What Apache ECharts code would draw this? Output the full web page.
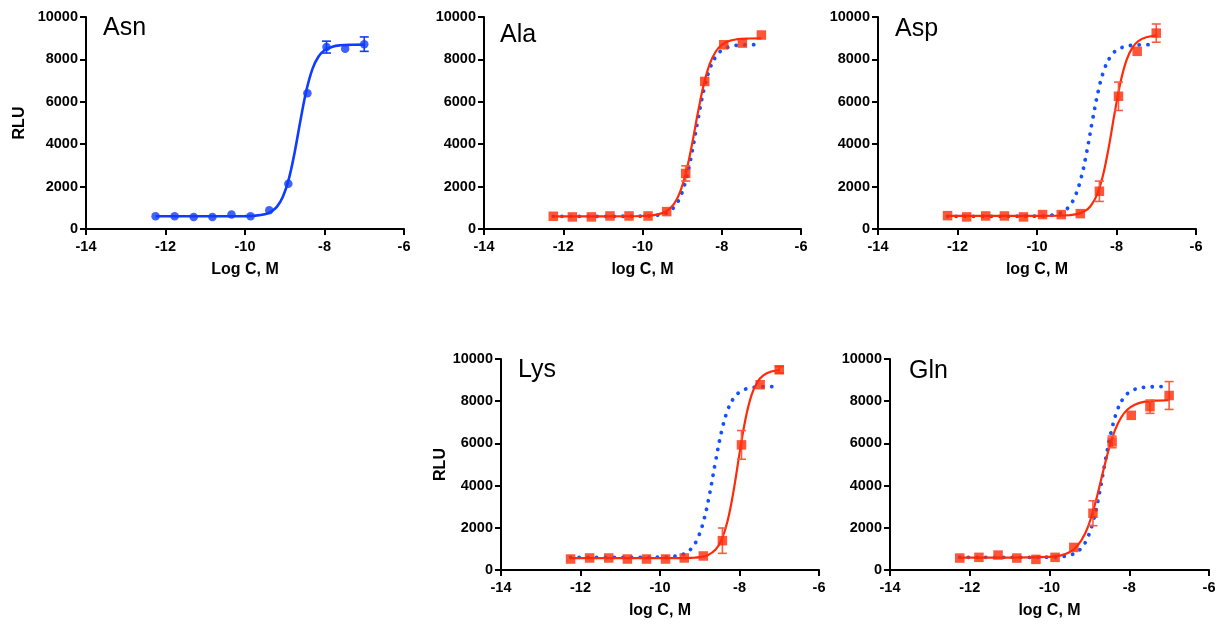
<!DOCTYPE html>
<html>
<head>
<meta charset="utf-8">
<title>RLU vs log C</title>
<script src="https://cdn.jsdelivr.net/npm/echarts@6/dist/echarts.min.js"></script>
<style>
    html, body { margin: 0; padding: 0; background: #fff; }
    #chart { width: 1225px; height: 625px; }
</style>
</head>
<body>
<div id="chart"></div>
<script>
// log concentration of each well (M), same for every peptide
const logC = [-12.25, -11.77, -11.29, -10.82, -10.34, -9.86, -9.39, -8.91, -8.43, -7.95, -7.48, -7.0];

const asnY   = [600, 600, 570, 570, 680, 600, 880, 2130, 6400, 8580, 8500, 8720];
const asnErr = [0, 0, 0, 0, 0, 0, 0, 0, 0, 280, 0, 340];
const alaY   = [600, 570, 570, 615, 615, 615, 820, 2620, 6960, 8690, 8770, 9150];
const alaErr = [0, 0, 0, 0, 0, 0, 0, 360, 0, 0, 0, 0];
const aspY   = [630, 570, 615, 615, 570, 680, 680, 725, 1780, 6260, 8380, 9240];
const aspErr = [0, 0, 0, 0, 0, 0, 0, 0, 480, 670, 0, 430];
const lysY   = [520, 570, 570, 520, 520, 520, 570, 665, 1390, 5930, 8780, 9490];
const lysErr = [0, 0, 0, 0, 0, 0, 0, 0, 600, 680, 0, 150];
const glnY   = [566, 600, 708, 566, 503, 600, 1070, 2690, 6070, 7330, 7740, 8270];
const glnErr = [0, 0, 0, 0, 0, 0, 0, 590, 275, 0, 315, 660];

// fitted curves
const asnFitX = [-12.25, -11, -10, -9.75, -9.5, -9.35, -9.2, -9.05, -8.9, -8.75, -8.6, -8.45, -8.3, -8.15, -8.0, -7.8, -7.6, -7.3, -7.0];
const asnFitY = [600, 600, 607, 627, 698, 810, 1043, 1506, 2342, 3623, 5171, 6578, 7565, 8135, 8430, 8602, 8665, 8690, 8698];
const alaFitX = asnFitX;
const alaFitY = [600, 600, 614, 645, 749, 902, 1201, 1754, 2679, 3998, 5504, 6845, 7798, 8371, 8683, 8877, 8953, 8985, 8995];
const aspFitX = [-12.25, -11, -10, -9.5, -9.2, -9.0, -8.8, -8.65, -8.5, -8.35, -8.2, -8.05, -7.9, -7.75, -7.6, -7.45, -7.25, -7.0];
const aspFitY = [620, 620, 621, 626, 649, 700, 841, 1087, 1574, 2454, 3804, 5434, 6915, 7954, 8555, 8866, 9047, 9122];
const lysFitX = [-12.25, -11, -10, -9.5, -9.2, -9.0, -8.8, -8.6, -8.45, -8.3, -8.15, -8.0, -7.85, -7.7, -7.55, -7.4, -7.2, -7.0];
const lysFitY = [560, 560, 560, 563, 577, 609, 704, 972, 1437, 2320, 3737, 5513, 7145, 8274, 8911, 9229, 9406, 9468];
const glnFitX = [-12.25, -11, -10, -9.75, -9.5, -9.3, -9.1, -8.95, -8.8, -8.65, -8.5, -8.35, -8.2, -8.05, -7.85, -7.6, -7.3, -7.0];
const glnFitY = [590, 590, 621, 678, 838, 1141, 1756, 2519, 3546, 4711, 5805, 6661, 7241, 7597, 7848, 7978, 8030, 8044];

// axis ticks
const xTicks = {min: -14, max: -6, interval: 2};
const yTicks = {min: 0, max: 10000, interval: 2000};

const BLUE = '#0f3cff';
const DOT_BLUE = '#1450ff';
const RED = '#ff2a08';
const RED_ERR = '#ff5a40';
const FONT = '"Liberation Sans", Arial, Helvetica, sans-serif';

const zip = (xs, ys) => xs.map((x, i) => [x, ys[i]]);

// layout of each panel (pixel boxes of the plot area)
const panels = [
    {title: 'Asn', fitX: asnFitX, fitY: asnFitY, y: asnY, err: asnErr, color: BLUE, symbol: 'circle', ref: false,
        grid: {left: 86, top: 17, width: 318, height: 212}, titlePos: [103, 16], xName: 'Log C, M', yName: 'RLU', yGap: 58},
    {title: 'Ala', fitX: alaFitX, fitY: alaFitY, y: alaY, err: alaErr, color: RED, symbol: 'rect', ref: true,
        grid: {left: 484, top: 17, width: 317, height: 212}, titlePos: [500, 23], xName: 'log C, M'},
    {title: 'Asp', fitX: aspFitX, fitY: aspFitY, y: aspY, err: aspErr, color: RED, symbol: 'rect', ref: true,
        grid: {left: 878, top: 17, width: 318, height: 212}, titlePos: [895, 17], xName: 'log C, M'},
    {title: 'Lys', fitX: lysFitX, fitY: lysFitY, y: lysY, err: lysErr, color: RED, symbol: 'rect', ref: true,
        grid: {left: 501, top: 359, width: 318, height: 211}, titlePos: [518, 358], xName: 'log C, M', yName: 'RLU', yGap: 46},
    {title: 'Gln', fitX: glnFitX, fitY: glnFitY, y: glnY, err: glnErr, color: RED, symbol: 'rect', ref: true,
        grid: {left: 890, top: 359, width: 319, height: 211}, titlePos: [909, 359], xName: 'log C, M'}
];

// vertical error bar with caps
function errorBar(color) {
    return function (params, api) {
        const x = api.value(0), y = api.value(1), e = api.value(2);
        if (!e) {
            return null;
        }
        const top = api.coord([x, y + e]);
        const bot = api.coord([x, y - e]);
        const w = 4.5;
        const style = {stroke: color, lineWidth: 1.6};
        return {
            type: 'group',
            children: [
                {type: 'line', shape: {x1: top[0], y1: top[1], x2: bot[0], y2: bot[1]}, style: style},
                {type: 'line', shape: {x1: top[0] - w, y1: top[1], x2: top[0] + w, y2: top[1]}, style: style},
                {type: 'line', shape: {x1: bot[0] - w, y1: bot[1], x2: bot[0] + w, y2: bot[1]}, style: style}
            ]
        };
    };
}

const axisCommon = {
    axisLine: {lineStyle: {color: '#000', width: 2}},
    axisTick: {show: true, length: 6, lineStyle: {color: '#000', width: 2}},
    splitLine: {show: false},
    nameTextStyle: {color: '#000', fontFamily: FONT, fontWeight: 'bold', fontSize: 16}
};
const labelStyle = {color: '#000', fontFamily: FONT, fontWeight: 'bold', fontSize: 14.5};

const option = {
    animation: false,
    backgroundColor: '#fff',
    title: [],
    grid: [],
    xAxis: [],
    yAxis: [],
    series: []
};

panels.forEach((p, i) => {
    option.title.push({
        text: p.title, left: p.titlePos[0], top: p.titlePos[1], padding: 0,
        textStyle: {fontFamily: FONT, fontWeight: 'normal', fontSize: 25, color: '#000'}
    });
    option.grid.push(Object.assign({containLabel: false}, p.grid));
    option.xAxis.push(Object.assign({}, axisCommon, {
        gridIndex: i, type: 'value', min: xTicks.min, max: xTicks.max, interval: xTicks.interval,
        name: p.xName, nameLocation: 'middle', nameGap: 33,
        axisLabel: Object.assign({margin: 10, formatter: v => String(v)}, labelStyle)
    }));
    option.yAxis.push(Object.assign({}, axisCommon, {
        gridIndex: i, type: 'value', min: yTicks.min, max: yTicks.max, interval: yTicks.interval,
        name: p.yName || '', nameLocation: 'middle', nameGap: p.yGap || 50,
        axisLabel: Object.assign({margin: 8, formatter: v => String(v)}, labelStyle)
    }));

    // Asn fit as dotted reference
    if (p.ref) {
        option.series.push({
            type: 'line', xAxisIndex: i, yAxisIndex: i, z: 1,
            data: zip(asnFitX, asnFitY), showSymbol: false, smooth: 0.4, silent: true,
            lineStyle: {color: DOT_BLUE, width: 3.8, type: [0.1, 8.6], cap: 'round'}
        });
    }
    option.series.push({
        type: 'line', xAxisIndex: i, yAxisIndex: i, z: 2,
        data: zip(p.fitX, p.fitY), showSymbol: false, smooth: 0.4, silent: true,
        lineStyle: {color: p.color, width: p.ref ? 2.2 : 2.6}
    });
    option.series.push({
        type: 'custom', xAxisIndex: i, yAxisIndex: i, z: 3,
        data: logC.map((x, k) => [x, p.y[k], p.err[k]]),
        renderItem: errorBar(p.ref ? RED_ERR : p.color)
    });
    option.series.push({
        type: 'scatter', xAxisIndex: i, yAxisIndex: i, z: 4,
        data: zip(logC, p.y), symbol: p.symbol, symbolSize: p.ref ? 9.5 : 8.5,
        itemStyle: {color: p.color}
    });
});

const chart = echarts.init(document.getElementById('chart'));
chart.setOption(option);
</script>
</body>
</html>
